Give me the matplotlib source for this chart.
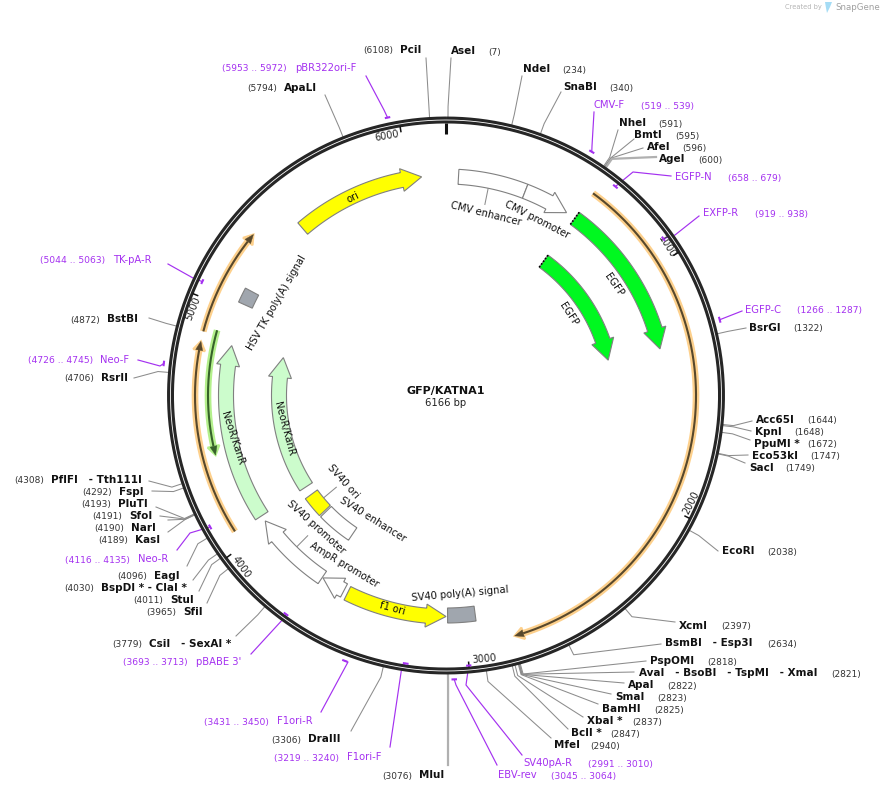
"""
GFP/KATNA1 plasmid map, redrawn in pixel coordinates
"""
import matplotlib
matplotlib.use("Agg")
import matplotlib.pyplot as plt
import numpy as np
from matplotlib.patches import Polygon

plt.rcParams['font.family'] = ['DejaVu Sans']

TOTAL_BP = 6166
PLASMID = "GFP/KATNA1"
SIZE_TEXT = "6166 bp"

# restriction sites
site_names = ["AseI", "NdeI", "SnaBI", "NheI", "BmtI", "AfeI", "AgeI", "BsrGI", "Acc65I", "KpnI",
              "PpuMI *", "Eco53kI", "SacI", "EcoRI", "XcmI", "BsmBI   - Esp3I", "PspOMI",
              "AvaI   - BsoBI   - TspMI   - XmaI", "ApaI", "SmaI", "BamHI", "XbaI *", "BclI *", "MfeI",
              "MluI", "DraIII", "CsiI   - SexAI *", "SfiI", "StuI", "BspDI * - ClaI *", "EagI", "KasI",
              "NarI", "SfoI", "PluTI", "FspI", "PflFI   - Tth111I", "RsrII", "BstBI", "ApaLI", "PciI"]
site_bp = [7, 234, 340, 591, 595, 596, 600, 1322, 1644, 1648,
           1672, 1747, 1749, 2038, 2397, 2634, 2818,
           2821, 2822, 2823, 2825, 2837, 2847, 2940,
           3076, 3306, 3779, 3965, 4011, 4030, 4096, 4189,
           4190, 4191, 4193, 4292, 4308, 4706, 4872, 5794, 6108]
# label layout in pixels
site_name_x = [451, 523, 563, 619, 634, 647, 659, 749, 756, 755,
               754, 752, 749, 722, 679, 665, 650,
               639, 628, 615, 602, 587, 571, 554,
               419, 308, 149, 183, 170, 101, 154, 135,
               131, 129, 118, 119, 51, 101, 107, 284, 400]
site_pos_x = [488, 562, 609, 658, 675, 682, 698, 793, 807, 794,
              807, 810, 785, 767, 721, 767, 707,
              831, 667, 657, 654, 632, 610, 590,
              382, 271, 112, 146, 133, 64, 117, 98,
              94, 92, 81, 82, 14, 64, 70, 247, 363]
site_y = [51, 69, 87, 123, 135, 147, 159, 328, 420, 432,
          444, 456, 468, 551, 626, 643, 661,
          673, 685, 697, 709, 721, 733, 745,
          775, 739, 644, 612, 600, 588, 576, 540,
          528, 516, 504, 492, 480, 378, 319, 88, 50]
site_end_x = [451, 522, 561, 618, 634, 643, 656, 746, 752, 751,
              750, 748, 745, 718, 675, 661, 646,
              634, 624, 611, 598, 583, 568, 551,
              448, 351, 236, 207, 199, 193, 187, 168,
              168, 160, 156, 152, 149, 134, 149, 325, 426]
site_end_y = [58, 76, 92, 130, 139, 148, 157, 328, 421, 431,
              440, 455, 463, 551, 622, 644, 661,
              672, 683, 694, 704, 717, 729, 738,
              765, 731, 636, 603, 591, 580, 566, 532,
              520, 516, 507, 491, 481, 378, 318, 95, 58]
thick_sites = ["AgeI", "MluI"]

# primers
primer_names = ["pBR322ori-F", "CMV-F", "EGFP-N", "EXFP-R", "EGFP-C", "SV40pA-R", "EBV-rev", "F1ori-F",
                "F1ori-R", "pBABE 3'", "Neo-R", "Neo-F", "TK-pA-R"]
primer_start = [5953, 519, 658, 919, 1266, 2991, 3045, 3219, 3431, 3693, 4116, 4726, 5044]
primer_end = [5972, 539, 679, 938, 1287, 3010, 3064, 3240, 3450, 3713, 4135, 4745, 5063]
primer_radius = [284, 284, 269, 268, 284, 271, 284, 271, 284, 271, 270, 284, 269]
primer_name_x = [295, 594, 675, 703, 745, 523, 498, 347, 277, 196, 138, 100, 113]
primer_pos_x = [222, 641, 728, 755, 797, 588, 551, 274, 204, 123, 65, 28, 40]
primer_y = [68, 105, 177, 213, 310, 763, 775, 757, 721, 662, 559, 360, 260]
# leader points from the mark out to the label
primer_leader_x = [[384, 366], [592, 594], [633, 671], [675, 699], [742], [466, 522], [456, 497], [402, 390],
                   [348, 321], [285, 251], [190, 177], [160, 138], [193, 168]]
primer_leader_y = [[110, 76], [146, 112], [172, 176], [235, 216], [311], [685, 755], [685, 765], [666, 747],
                   [662, 712], [617, 654], [533, 550], [366, 360], [278, 264]]

# arrow and box features on the inner tracks
feature_names = ["ori", "CMV enhancer", "CMV promoter", "EGFP", "EGFP", "NeoR/KanR", "NeoR/KanR",
                 "HSV TK poly(A) signal", "SV40 ori", "SV40 enhancer", "SV40 promoter", "AmpR promoter",
                 "f1 ori", "SV40 poly(A) signal"]
feature_start = [5470, 56, 363, 617, 617, 4057, 4057, 5040, 3879, 3665, 3669, 3556, 3083, 2953]
feature_end = [6057, 363, 572, 1331, 1331, 4849, 4849, 5107, 4003, 3870, 4029, 3665, 3537, 3076]
feature_dir = [1, 0, 1, 1, 1, 1, 1, 0, 0, 0, 1, 1, -1, 0]
feature_radius = [220, 219, 219, 219, 166, 220, 167, 220, 167, 167, 220, 220, 221, 220]
feature_colors = ["#ffff00", "#ffffff", "#ffffff", "#00f820", "#00f820", "#ccfccc", "#ccfccc",
                  "#a0a6ae", "#ffff00", "#ffffff", "#ffffff", "#ffffff", "#ffff00", "#a0a6ae"]
label_x = [353, 486, 537, 614, 569, 232, 284, 277, 343, 373, 316, 344, 392, 460]
label_y = [197, 214, 220, 285, 314, 438, 429, 303, 482, 520, 527, 565, 608, 594]
label_rot = [26, -14, -27, -55, -57, -72, -75, 60, -48, -32, -42, -31, -15, 5]

# short lines tying a label to its feature
connector_bp = [197, 3847, 3941]
connector_r0 = [212, 212, 160]
connector_r1 = [195, 197, 143]

# thin halo features
thin_start = [617, 4063, 4878, 4376]
thin_end = [2810, 4838, 5308, 4897]
thin_dir = [1, 1, 1, -1]
thin_radius = [250, 251, 251, 238]
thin_halo = ["#fdd08c", "#fdd08c", "#fdd08c", "#b4f08c"]
thin_core = ["#57482c", "#57482c", "#57482c", "#36622a"]

# ruler
tick_bp = [1000, 2000, 3000, 4000, 5000, 6000]
tick_x = [667, 691, 484, 241, 193, 387]
tick_y = [247, 503, 659, 567, 308, 136]
tick_rot = [-58, 63, 5, -54, 68, 10]

CX, CY = 446, 395.5
PURPLE = "#a431f0"
LEADER = "#8c8c8c"
DARK = "#262626"


def polar(bp, r):
    a = np.asarray(bp, dtype=float) / TOTAL_BP * 2 * np.pi
    return CX + r * np.sin(a), CY - r * np.cos(a)


def arc(b0, b1, r):
    bps = np.linspace(b0, b1, 400)
    return polar(bps, r)


def draw_feature(ax, start, end, direction, r, color):
    half = 7.5
    x1, y1 = arc(start, end, r + half)
    x2, y2 = arc(start, end, r - half)
    if direction == 0:
        xs = np.r_[x1, x2[::-1]]
        ys = np.r_[y1, y2[::-1]]
    else:
        head = 20.0 / r / (2 * np.pi) * TOTAL_BP
        head_half = 11.5
        if direction > 0:
            tip, back, tail = end, end - head, start
        else:
            tip, back, tail = start, start + head, end
        x1, y1 = arc(tail, back, r + half)
        x2, y2 = arc(tail, back, r - half)
        hx, hy = polar([back, tip, back], [r + head_half, r, r - head_half])
        xs = np.r_[x1, hx, x2[::-1]]
        ys = np.r_[y1, hy, y2[::-1]]
    ax.add_patch(Polygon(np.c_[xs, ys], closed=True, fc=color, ec="#808080", lw=0.8, zorder=3))


def draw_thin(ax, start, end, direction, r, halo, core):
    # head is about 9 px long, the line stops at its base
    head = 9.0 / r / (2 * np.pi) * TOTAL_BP
    if direction > 0:
        tip, back = end, end - head
        xs, ys = arc(start, back, r)
    else:
        tip, back = start, start + head
        xs, ys = arc(back, end, r)
    ax.plot(xs, ys, color=halo, lw=4.8, solid_capstyle="butt", zorder=2)
    hx, hy = polar([back, tip, back], [r + 6, r, r - 6])
    ax.add_patch(Polygon(np.c_[hx, hy], closed=True, fc=halo, ec=halo, lw=1.5, zorder=2))
    ax.plot(xs, ys, color=core, lw=1.5, solid_capstyle="butt", zorder=3)
    hx, hy = polar([back, tip, back], [r + 3.5, r, r - 3.5])
    ax.add_patch(Polygon(np.c_[hx, hy], closed=True, fc=core, ec=core, lw=0.3, zorder=3))


def main():
    fig = plt.figure(figsize=(8.83, 7.92), dpi=100, facecolor="w")
    ax = fig.add_axes([0, 0, 1, 1])
    ax.set_xlim(0, 883)
    ax.set_ylim(792, 0)
    ax.axis("off")

    # backbone ring
    xs, ys = polar(np.linspace(0, TOTAL_BP, 1500), 275.5)
    ax.plot(xs, ys, color=DARK, lw=5.0, solid_capstyle="butt", zorder=4)
    ax.plot(xs, ys, color="w", lw=0.6, solid_capstyle="butt", zorder=5)
    xs, ys = polar([0, 0], [273, 262])
    ax.plot(xs, ys, color="#111111", lw=2.2, solid_capstyle="butt", zorder=4)

    for bp, x, y, rot in zip(tick_bp, tick_x, tick_y, tick_rot):
        xs, ys = polar([bp, bp], [273, 267])
        ax.plot(xs, ys, color="#111111", lw=1.1, solid_capstyle="butt", zorder=4)
        ax.text(x, y, str(bp), fontsize=7, rotation=rot, ha="center", va="center",
                rotation_mode="anchor", color="#222222")

    # restriction sites
    for i, name in enumerate(site_names):
        bp = site_bp[i]
        x0, y0 = polar(bp, 278)
        x1, y1 = polar(bp, 289)
        thick = name in thick_sites
        ax.plot([x0, x1, site_end_x[i]], [y0, y1, site_end_y[i]], color="#b0b0b0" if thick else LEADER,
                lw=1.6 if thick else 0.75, zorder=1)
        ax.text(site_name_x[i], site_y[i], name, fontsize=7.5, fontweight="bold", ha="left", va="center",
                color="#111111")
        ax.text(site_pos_x[i], site_y[i] + 1, "(%d)" % bp, fontsize=6.5, ha="left", va="center",
                color="#333333")

    # primers
    for i, name in enumerate(primer_names):
        xs, ys = arc(primer_start[i], primer_end[i], primer_radius[i])
        ax.plot(xs, ys, color=PURPLE, lw=1.5, solid_capstyle="butt", zorder=6)
        mx, my = polar((primer_start[i] + primer_end[i]) / 2.0, primer_radius[i])
        ax.plot([mx] + primer_leader_x[i], [my] + primer_leader_y[i], color=PURPLE, lw=0.85, zorder=1)
        ax.text(primer_name_x[i], primer_y[i], name, fontsize=7.2, ha="left", va="center", color=PURPLE)
        ax.text(primer_pos_x[i], primer_y[i] + 1, "(%d .. %d)" % (primer_start[i], primer_end[i]), fontsize=6.6,
                ha="left", va="center", color=PURPLE)

    # features
    for i, name in enumerate(feature_names):
        draw_feature(ax, feature_start[i], feature_end[i], feature_dir[i], feature_radius[i], feature_colors[i])
        ax.text(label_x[i], label_y[i], name, fontsize=7.2, rotation=label_rot[i], ha="center", va="center",
                rotation_mode="anchor", color="#111111", zorder=7)

    # the two EGFP copies are truncated at the tail
    for i in [3, 4]:
        xs, ys = polar([feature_start[i], feature_start[i]], [feature_radius[i] + 7.5, feature_radius[i] - 7.5])
        ax.plot(xs, ys, color="k", lw=1.2, ls=(0, (1, 1)), zorder=4)

    # thin features
    for i in range(len(thin_start)):
        draw_thin(ax, thin_start[i], thin_end[i], thin_dir[i], thin_radius[i], thin_halo[i], thin_core[i])

    for b, r0, r1 in zip(connector_bp, connector_r0, connector_r1):
        xs, ys = polar([b, b], [r0, r1])
        ax.plot(xs, ys, color=LEADER, lw=0.75, zorder=2)

    ax.text(446, 391, PLASMID, fontsize=8, fontweight="bold", ha="center", va="center", color="#111111")
    ax.text(446, 403, SIZE_TEXT, fontsize=7.2, ha="center", va="center", color="#222222")

    # watermark
    ax.text(785, 7.5, "Created by", fontsize=4.8, ha="left", va="center", color="#b4b4b4")
    ax.add_patch(Polygon([[825, 2], [832, 2], [830, 7], [827, 13], [826, 8]], closed=True, fc="#a5dcf5", ec="none"))
    ax.text(835, 7.5, "SnapGene", fontsize=6.2, ha="left", va="center", color="#a0a0a0")

    fig.savefig("out.png", dpi=100, facecolor="w")


if __name__ == '__main__':
    main()
